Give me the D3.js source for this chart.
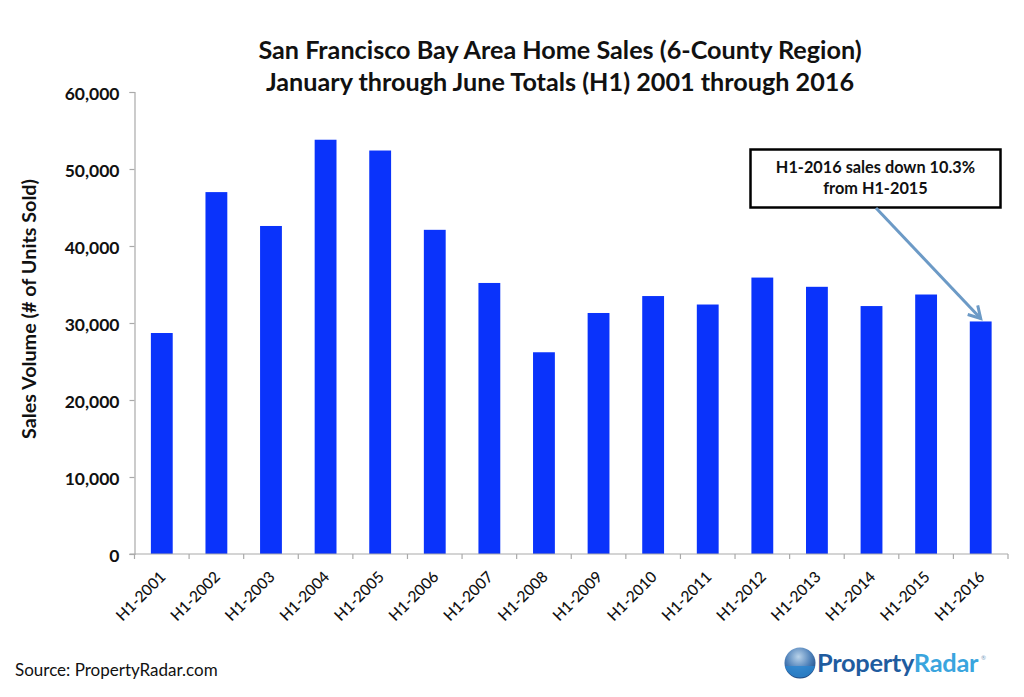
<!DOCTYPE html>
<html>
<head>
<meta charset="utf-8">
<script src="https://cdn.jsdelivr.net/npm/d3@7"></script>
<style>
  html, body { margin: 0; padding: 0; background: #fff; }
  text { font-family: Lato, "Open Sans", sans-serif; fill: #111; }
</style>
</head>
<body>
<svg id="chart" width="1024" height="697"></svg>
<script>
// chart values
const categories = ["H1-2001", "H1-2002", "H1-2003", "H1-2004", "H1-2005", "H1-2006", "H1-2007", "H1-2008",
  "H1-2009", "H1-2010", "H1-2011", "H1-2012", "H1-2013", "H1-2014", "H1-2015", "H1-2016"];
const salesVolume = [28700, 47000, 42600, 53800, 52400, 42100, 35200, 26200,
  31300, 33500, 32400, 35900, 34700, 32200, 33700, 30200];
const yTicks = [0, 10000, 20000, 30000, 40000, 50000, 60000];
const titleLines = ["San Francisco Bay Area Home Sales (6-County Region)", "January through June Totals (H1) 2001 through 2016"];
const noteLines = ["H1-2016 sales down 10.3%", "from H1-2015"];

const svg = d3.select("#chart");

const x = d3.scaleBand().domain(categories).range([134.5, 1008]).paddingInner(0.6).paddingOuter(0.3);
const y = d3.scaleLinear().domain([0, 60000]).range([554, 92]);

// bars
svg.append("g").selectAll("rect")
  .data(categories)
  .join("rect")
  .attr("x", d => x(d))
  .attr("width", x.bandwidth())
  .attr("y", (d, i) => y(salesVolume[i]))
  .attr("height", (d, i) => y(0) - y(salesVolume[i]))
  .attr("fill", "#0a33fb");

// y axis
const yAxis = svg.append("g")
  .attr("transform", "translate(134.5,0)")
  .call(d3.axisLeft(y).tickValues(yTicks).tickFormat(d3.format(",")).tickSize(5).tickPadding(10));
yAxis.selectAll("text").attr("font-size", 17.5).attr("font-weight", 700).attr("dy", "0.42em").style("font-family", "Lato, sans-serif");

// x axis, ticks sit between the bars
const step = x.step();
const xAxis = svg.append("g").attr("transform", "translate(0,554)");
xAxis.append("line").attr("x1", 129.5).attr("x2", 1008).attr("stroke", "#aaa").attr("stroke-width", 1.2);
xAxis.selectAll("line.tick")
  .data(d3.range(categories.length + 1))
  .join("line")
  .attr("class", "tick")
  .attr("x1", i => 134.5 + i * step)
  .attr("x2", i => 134.5 + i * step)
  .attr("y2", 5)
  .attr("stroke", "#aaa")
  .attr("stroke-width", 1.2);
xAxis.selectAll("text")
  .data(categories)
  .join("text")
  .attr("transform", d => `translate(${x(d) + x.bandwidth() / 2 + 1},20) rotate(-45)`)
  .attr("text-anchor", "end")
  .attr("dy", "0.35em")
  .attr("font-size", 15.5)
  .attr("font-weight", 500)
  .text(d => d);

yAxis.selectAll("path, line").attr("stroke", "#aaa").attr("stroke-width", 1.2);

// y axis title
svg.append("text")
  .attr("transform", "translate(36,309) rotate(-90)")
  .attr("text-anchor", "middle")
  .attr("font-size", 19.8)
  .attr("font-weight", 700)
  .text("Sales Volume (# of Units Sold)");

// title
svg.append("g").selectAll("text")
  .data(titleLines)
  .join("text")
  .attr("x", 560)
  .attr("y", (d, i) => 59 + i * 31.5)
  .attr("text-anchor", "middle")
  .attr("font-size", 25.2)
  .attr("font-weight", 700)
  .text(d => d);

// callout
svg.append("rect")
  .attr("x", 750.5).attr("y", 149.5)
  .attr("width", 250).attr("height", 58)
  .attr("fill", "#fff").attr("stroke", "#000").attr("stroke-width", 2.5);
svg.append("g").selectAll("text")
  .data(noteLines)
  .join("text")
  .attr("x", 875.5)
  .attr("y", (d, i) => 173 + i * 21)
  .attr("text-anchor", "middle")
  .attr("font-size", 16.3)
  .attr("font-weight", 700)
  .text(d => d);

// arrow from the callout down to the last bar
const lastX = x("H1-2016") + x.bandwidth() / 2;
const lastY = y(salesVolume[15]) - 3;
svg.append("path")
  .attr("d", `M876,208L${lastX},${lastY}`)
  .attr("stroke", "#6c9ac6").attr("stroke-width", 3).attr("fill", "none");
svg.append("path")
  .attr("d", `M${lastX - 13},${lastY - 4}L${lastX},${lastY}L${lastX - 3},${lastY - 13}`)
  .attr("stroke", "#6c9ac6").attr("stroke-width", 3).attr("fill", "none");

// source
svg.append("text")
  .attr("x", 15).attr("y", 676)
  .attr("font-size", 17)
  .text("Source: PropertyRadar.com");

// logo
const defs = svg.append("defs");
const globe = defs.append("radialGradient").attr("id", "globe").attr("cx", "45%").attr("cy", "30%").attr("r", "75%");
globe.append("stop").attr("offset", "0%").attr("stop-color", "#b9d3ea");
globe.append("stop").attr("offset", "55%").attr("stop-color", "#4c7fb8");
globe.append("stop").attr("offset", "100%").attr("stop-color", "#173f78");
svg.append("circle").attr("cx", 800).attr("cy", 663).attr("r", 15.5).attr("fill", "url(#globe)");
svg.append("path").attr("d", "M785,666a15.5,15.5 0 0 0 30,0z").attr("fill", "#2a86cf").attr("opacity", 0.8);
const logo = svg.append("text")
  .attr("x", 817).attr("y", 672)
  .attr("font-size", 25.4)
  .attr("font-weight", 700)
  .style("letter-spacing", "-0.3px");
logo.append("tspan").style("fill", "#1f5c9f").text("Property");
logo.append("tspan").style("fill", "#3aa5de").text("Radar");
svg.append("text").attr("x", 981).attr("y", 660).attr("font-size", 6).style("fill", "#7a9cc0").text("®");
</script>
</body>
</html>
